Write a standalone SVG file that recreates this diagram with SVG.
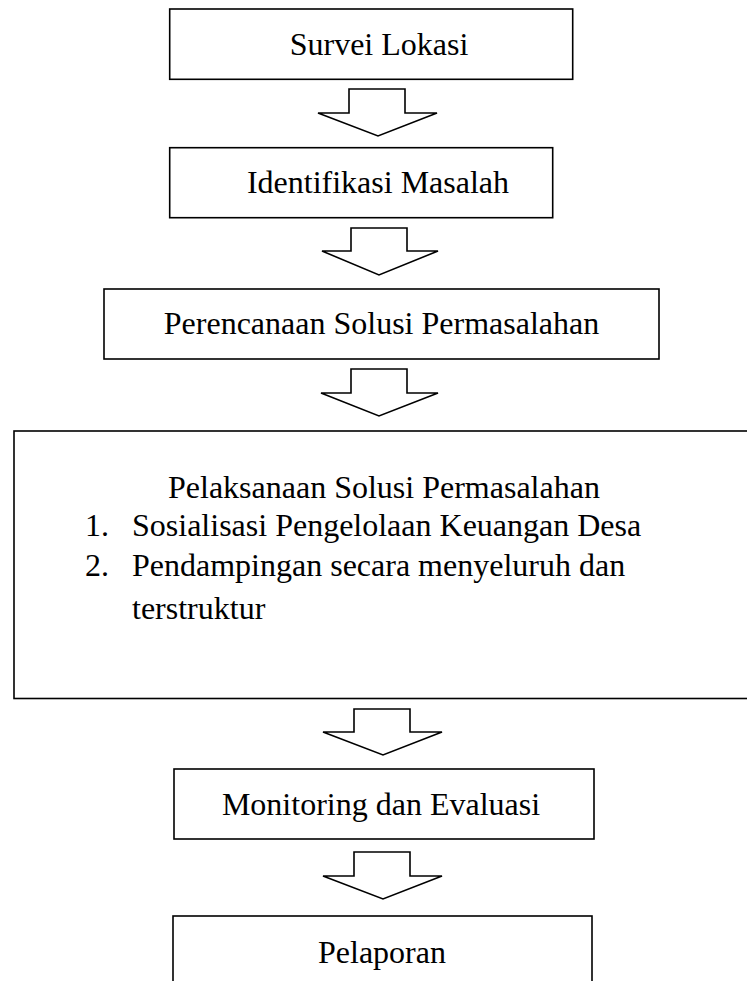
<svg xmlns="http://www.w3.org/2000/svg" width="747" height="981" viewBox="0 0 747 981">
<style>
.box{fill:#fff;stroke:#000;stroke-width:1.6}
.arr{fill:#fff;stroke:#000;stroke-width:1.6;stroke-linejoin:miter}
text{font-family:"Liberation Serif","Times New Roman",serif;font-size:32px;fill:#000}
.c{text-anchor:middle}
</style>
<rect width="747" height="981" fill="#fff"/>
<g id="n1"><rect class="box" x="169.7" y="9" width="403" height="70.3"/><text class="c" x="379" y="55">Survei Lokasi</text></g>
<g id="n2"><rect class="box" x="169.7" y="147.7" width="383" height="70"/><text class="c" x="378" y="193">Identifikasi Masalah</text></g>
<g id="n3"><rect class="box" x="104" y="289" width="555" height="70"/><text class="c" x="381.5" y="334">Perencanaan Solusi Permasalahan</text></g>
<g id="n4"><rect class="box" x="14" y="431" width="760" height="267.5"/>
<text x="168" y="498">Pelaksanaan Solusi Permasalahan</text>
<text x="85" y="536">1.</text><text x="132" y="536">Sosialisasi Pengelolaan Keuangan Desa</text>
<text x="85" y="576">2.</text><text x="132" y="576">Pendampingan secara menyeluruh dan</text>
<text x="132" y="619">terstruktur</text></g>
<g id="n5"><rect class="box" x="174" y="769" width="420" height="70"/><text class="c" x="381" y="815">Monitoring dan Evaluasi</text></g>
<g id="n6"><rect class="box" x="173" y="916" width="419" height="80"/><text class="c" x="382" y="963">Pelaporan</text></g>
<g id="connectors">
<polygon class="arr" points="349,89 405,89 405,113 437,113 378,136 318,113 349,113"/>
<polygon class="arr" points="351,228 407,228 407,251 438,251 379,275 322,251 351,251"/>
<polygon class="arr" points="351,369 407,369 407,393 438,393 379,416 321,393 351,393"/>
<polygon class="arr" points="354,709 410,709 410,732 442,732 383,755 323,732 354,732"/>
<polygon class="arr" points="354,852 410,852 410,876 442,876 383,899 323,876 354,876"/>
</g>
</svg>
